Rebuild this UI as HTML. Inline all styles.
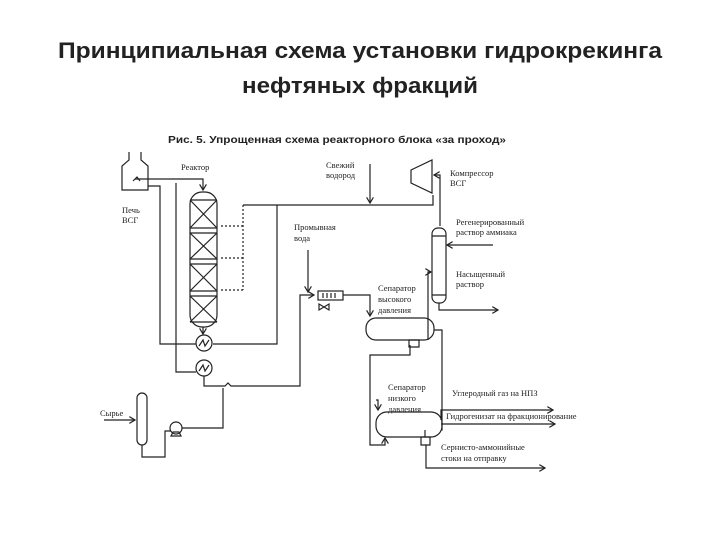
<!DOCTYPE html>
<html><head><meta charset="utf-8"><style>
body{margin:0;background:#fff;width:720px;height:540px;overflow:hidden}
svg{display:block}
.t{font-family:"Liberation Serif",serif;font-size:8.5px;fill:#222}
</style></head><body>
<svg width="720" height="540" viewBox="0 0 720 540" xmlns="http://www.w3.org/2000/svg">
<defs><marker id="a" markerWidth="6" markerHeight="6" refX="5" refY="3" orient="auto"><path d="M0,0 L5,3 L0,6" fill="none" stroke="#222" stroke-width="1"/></marker></defs>
<text x="360" y="58" text-anchor="middle" font-family="Liberation Sans, sans-serif" font-weight="bold" font-size="22" fill="#222" textLength="604" lengthAdjust="spacingAndGlyphs">Принципиальная схема установки гидрокрекинга</text>
<text x="360" y="93" text-anchor="middle" font-family="Liberation Sans, sans-serif" font-weight="bold" font-size="22" fill="#222" textLength="236" lengthAdjust="spacingAndGlyphs">нефтяных фракций</text>
<text x="168" y="143" font-family="Liberation Sans, sans-serif" font-weight="bold" font-size="10" fill="#222" textLength="338" lengthAdjust="spacingAndGlyphs">Рис. 5. Упрощенная схема реакторного блока «за проход»</text>
<g fill="none" stroke="#222" stroke-width="1.2">
<path d="M129,152 V160 L122,166 V190 H148 V166 L141,160 V152"/>
<path d="M133,181 L137,177 L140,181" />
<path d="M135,179 H190 L203,179 V190" marker-end="url(#a)"/>
<path d="M148,186 H160 V344 H196" />
<rect x="190" y="192" width="27" height="135" rx="12"/>
<path d="M190,200 H217 M190,228 H217 M190,233 H217 M190,259 H217 M190,264 H217 M190,291 H217 M190,296 H217 M190,322 H217"/>
<path d="M190,200 L217,228 M217,200 L190,228 M190,233 L217,259 M217,233 L190,259 M190,264 L217,291 M217,264 L190,291 M190,296 L217,322 M217,296 L190,322"/>
<path d="M203,327 V334" marker-end="url(#a)"/>
<circle cx="204" cy="343" r="8"/><path d="M199,346 L203,340 L205,346 L209,340"/>
<circle cx="204" cy="368" r="8"/><path d="M199,371 L203,365 L205,371 L209,365"/>
<path d="M176,183 V372 H196"/>
<path d="M204,376 V386 H225 L228,383 L231,386 H300 V295 H314" marker-end="url(#a)"/>
<path stroke-dasharray="2,2" d="M243,205 V290 M243,226 H220 M243,258 H220 M243,290 H220"/>
<path d="M243,205 H433 V195"/>
<path d="M277,205 V344 H213"/>
<text class="t" x="181" y="170" stroke="none" fill="#222">Реактор</text>
<path d="M370,164 V203" marker-end="url(#a)"/>
<path d="M411,170 L432,160 V193 L411,183 Z"/>
<path d="M440,226 V175 H434" marker-end="url(#a)"/>
<rect x="432" y="228" width="14" height="75" rx="6"/>
<path d="M432,236 H446 M432,295 H446"/>
<path d="M493,245 H447" marker-end="url(#a)"/>
<path d="M439,303 V310 H498" marker-end="url(#a)"/>
<path d="M428,340 V272 H431" marker-end="url(#a)"/>
<rect x="318" y="291" width="25" height="9"/>
<path d="M323,293 V298 M327,293 V298 M331,293 V298 M335,293 V298"/>
<path d="M319,304 L329,310 V304 L319,310 Z"/>
<path d="M308,250 V292" marker-end="url(#a)"/>
<path d="M343,295 H370 V316" marker-end="url(#a)"/>
<rect x="366" y="318" width="68" height="22" rx="10"/>
<path d="M409,340 V347 H419 V340 Z M410,345 V355 H370 V445 H385 V438" marker-end="url(#a)"/>
<path d="M434,330 H442 V430 H441"/>
<rect x="376" y="412" width="66" height="25" rx="11"/>
<path d="M376,400 H378 V410" marker-end="url(#a)"/>
<path d="M425,430 V437 M421,437 V445 H430 V437 Z"/>
<path d="M441,420 V410 H553" marker-end="url(#a)"/>
<path d="M441,424 H555" marker-end="url(#a)"/>
<path d="M426,445 V468 H545" marker-end="url(#a)"/>
<rect x="137" y="393" width="10" height="52" rx="5"/>
<path d="M104,420 H135" marker-end="url(#a)"/>
<path d="M142,445 V457 H165 V431 H171"/>
<circle cx="176" cy="428" r="6"/><path d="M171,436 H181 L179,432 H173 Z"/>
<path d="M182,428 H223 V388"/>
</g>
<g class="t">
<text x="122" y="213">Печь</text><text x="122" y="223">ВСГ</text>
<text x="326" y="168">Свежий</text><text x="326" y="178">водород</text>
<text x="450" y="176">Компрессор</text><text x="450" y="186">ВСГ</text>
<text x="456" y="225">Регенерированный</text><text x="456" y="235">раствор аммиака</text>
<text x="456" y="277">Насыщенный</text><text x="456" y="287">раствор</text>
<text x="294" y="230">Промывная</text><text x="294" y="241">вода</text>
<text x="378" y="291">Сепаратор</text><text x="378" y="302">высокого</text><text x="378" y="313">давления</text>
<text x="388" y="390">Сепаратор</text><text x="388" y="401">низкого</text><text x="388" y="412">давления</text>
<text x="452" y="396">Углеродный газ на НПЗ</text>
<text x="446" y="419">Гидрогенизат на фракционирование</text>
<text x="441" y="450">Сернисто-аммонийные</text><text x="441" y="461">стоки на отправку</text>
<text x="100" y="416">Сырье</text>
</g>
</svg>
</body></html>
